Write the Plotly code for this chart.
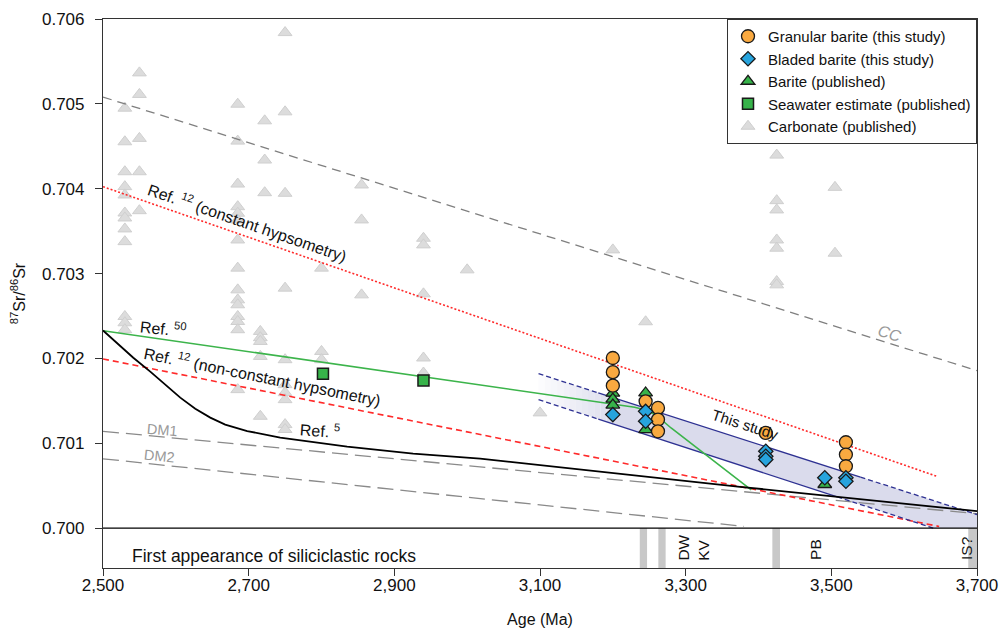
import numpy as np
import plotly.graph_objects as go

# ---------------- data ----------------
carb_age = ([2530] * 12 + [2550] * 5 + [2685] * 15 + [2716] * 5 + [2722] * 3 +
            [2750] * 10 + [2800] * 3 + [2855] * 3 + [2940] * 5 + [3000, 3100, 3200, 3245] +
            [3425] * 7 + [3505] * 2)
carb_sr = [0.704949, 0.704553, 0.704200, 0.704024, 0.703926, 0.703714, 0.703655, 0.703526,
           0.703376, 0.702494, 0.702420, 0.702338,
           0.705365, 0.705111, 0.704593, 0.704200, 0.703741,
           0.704996, 0.704561, 0.704055, 0.703788, 0.703711, 0.703632, 0.703396, 0.703064,
           0.702808, 0.702690, 0.702632, 0.702494, 0.702435, 0.702338, 0.701632,
           0.702318, 0.702244, 0.702200, 0.702024, 0.701318,
           0.704800, 0.704338, 0.703953,
           0.705840, 0.704906, 0.703946, 0.702828, 0.701985, 0.701691, 0.701596, 0.701514,
           0.701220, 0.701162,
           0.703064, 0.702082, 0.701985,
           0.704044, 0.703632, 0.702749,
           0.703416, 0.703338, 0.702761, 0.702005, 0.701828,
           0.703044, 0.701358, 0.703279, 0.702432,
           0.704396, 0.703859, 0.703750, 0.703396, 0.703299, 0.702906, 0.702867,
           0.704016, 0.703240]

granular_age = [3200, 3200, 3200, 3245, 3262, 3262, 3262, 3410, 3520, 3520, 3520]
granular_sr = [0.702005, 0.701838, 0.701679, 0.701494, 0.701416, 0.701279, 0.701141,
               0.701122, 0.701012, 0.700867, 0.700729]

bladed_age = [3200, 3245, 3245, 3410, 3410, 3410, 3491, 3520, 3520]
bladed_sr = [0.701338, 0.701376, 0.701259, 0.700906, 0.700847, 0.700808, 0.700593,
             0.700593, 0.700553]

barite_age = [3200, 3200, 3200, 3245, 3245, 3491]
barite_sr = [0.701590, 0.701520, 0.701450, 0.701593, 0.701161, 0.700514]

seawater_age = [2802, 2940]
seawater_sr = [0.701820, 0.701741]

# model curves
cc_age = [2500, 3700]
cc_sr = [0.705080, 0.701855]
const_age = [2500, 3645]
const_sr = [0.704024, 0.700610]
nonconst_age = [2500, 3648]
nonconst_sr = [0.701994, 0.700020]
ref50_age = [2500, 3200, 3230, 3250, 3265, 3280, 3390]
ref50_sr = [0.702327, 0.701470, 0.701425, 0.701380, 0.701290, 0.701180, 0.700450]
ref5_age = [2500, 2541.6, 2564.9, 2585.5, 2606.1, 2626.7, 2647.3, 2667.8, 2698, 2743.3,
            2835.2, 2925.8, 3017.8, 3374.6, 3700]
ref5_sr = [0.702329, 0.702008, 0.701844, 0.701691, 0.701538, 0.701408, 0.701302, 0.701220,
           0.701144, 0.701067, 0.700961, 0.700879, 0.700820, 0.700487, 0.700200]
dm1_age = [2500, 3700]
dm1_sr = [0.701141, 0.700170]
dm2_age = [2500, 3380]
dm2_sr = [0.700817, 0.700020]

# "This study" band
band_up_age = [3098, 3700]
band_up_sr = [0.701820, 0.700160]
band_lo_age = [3098, 3640]
band_lo_sr = [0.701514, 0.700000]
band_solid_up = [3180, 3540]
band_solid_lo = [3180, 3508]
band_fade_end = 3200

# first-appearance bars (age ranges)
bar_start = [3237, 3262.5, 3419, 3688]
bar_end = [3247, 3272.5, 3429.5, 3700]
site_labels = ["DW", "KV", "PB", "IS?"]
site_age = [3296.6, 3325, 3479, 3685.7]

x_ticks = [2500, 2700, 2900, 3100, 3300, 3500, 3700]
y_ticks = [0.700, 0.701, 0.702, 0.703, 0.704, 0.705, 0.706]
x_range = [2500, 3700]
y_range = [0.69953, 0.706]

FONT = "Liberation Sans, Arial, Helvetica, sans-serif"
NAVY = "#2e3192"

fig = go.Figure()


def up(a):
    return float(np.interp(a, band_up_age, band_up_sr))


def lo(a):
    return float(np.interp(a, band_lo_age, band_lo_sr, right=band_lo_sr[-1]))


# band fill: faded left part + solid body
n = 12
edges = np.linspace(band_up_age[0], band_fade_end, n + 1)
for i in range(n):
    a0, a1 = edges[i], edges[i + 1]
    alpha = (i + 1) / (n + 1)
    fig.add_trace(go.Scatter(
        x=[a0, a1, a1, a0, a0], y=[up(a0), up(a1), lo(a1), lo(a0), up(a0)],
        mode="lines", fill="toself", line=dict(width=0),
        fillcolor=f"rgba(218,219,236,{alpha:.3f})", hoverinfo="skip", showlegend=False))
fig.add_trace(go.Scatter(
    x=[band_fade_end, band_up_age[1], band_up_age[1], band_lo_age[1], band_fade_end, band_fade_end],
    y=[up(band_fade_end), band_up_sr[1], band_lo_sr[1], band_lo_sr[1], lo(band_fade_end), up(band_fade_end)],
    mode="lines", fill="toself", line=dict(width=0), fillcolor="rgb(218,219,236)",
    hoverinfo="skip", showlegend=False))

# carbonate (behind lines)
fig.add_trace(go.Scatter(
    x=carb_age, y=carb_sr, mode="markers", name="Carbonate (published)", legendrank=5,
    marker=dict(symbol="triangle-up", size=12, color="#dcdcdc",
                line=dict(color="#cfcfcf", width=1))))


def line(x, y, color, width, dash="solid"):
    fig.add_trace(go.Scatter(x=x, y=y, mode="lines", hoverinfo="skip", showlegend=False,
                             line=dict(color=color, width=width, dash=dash)))


line(cc_age, cc_sr, "#7f7f7f", 1.3, "9px,6px")
line(dm1_age, dm1_sr, "#8a8a8a", 1.3, "16px,7px")
line(dm2_age, dm2_sr, "#8a8a8a", 1.3, "16px,7px")
line(const_age, const_sr, "#ff2a2a", 1.6, "2px,2px")
line(nonconst_age, nonconst_sr, "#ff2a2a", 1.6, "6px,4px")

# band edges
for ages, f, solid in [(band_up_age, up, band_solid_up), (band_lo_age, lo, band_solid_lo)]:
    line([ages[0], solid[0]], [f(ages[0]), f(solid[0])], NAVY, 1.3, "5px,3px")
    line(solid, [f(solid[0]), f(solid[1])], NAVY, 1.3)
    line([solid[1], ages[1]], [f(solid[1]), f(ages[1])], NAVY, 1.3, "5px,3px")

line(ref50_age, ref50_sr, "#3cb44b", 1.6)
line(ref5_age, ref5_sr, "#000000", 1.8)

# published barite, granular, bladed, seawater
fig.add_trace(go.Scatter(
    x=barite_age, y=barite_sr, mode="markers", name="Barite (published)", legendrank=3,
    marker=dict(symbol="triangle-up", size=12, color="#37b34a", line=dict(color="#1a1a1a", width=1.3))))
fig.add_trace(go.Scatter(
    x=granular_age, y=granular_sr, mode="markers", name="Granular barite (this study)", legendrank=1,
    marker=dict(symbol="circle", size=13, color="#f9a940", line=dict(color="#1a1a1a", width=1.3))))
fig.add_trace(go.Scatter(
    x=bladed_age, y=bladed_sr, mode="markers", name="Bladed barite (this study)", legendrank=2,
    marker=dict(symbol="diamond", size=11, color="#27a4dd", line=dict(color="#1a1a1a", width=1.3))))
fig.add_trace(go.Scatter(
    x=seawater_age, y=seawater_sr, mode="markers", name="Seawater estimate (published)", legendrank=4,
    marker=dict(symbol="square", size=11, color="#37b34a", line=dict(color="#1a1a1a", width=1.5))))

# shapes: grey bars + 0.700 line
shapes = []
for s, e in zip(bar_start, bar_end):
    shapes.append(dict(type="rect", xref="x", yref="y", x0=s, x1=e, y0=y_range[0], y1=0.700,
                       fillcolor="#c8c8c8", line=dict(width=0), layer="below"))
shapes.append(dict(type="line", xref="paper", yref="y", x0=0, x1=1, y0=0.700, y1=0.700,
                   line=dict(color="#000000", width=1.3)))

ann = []


def text(x, y, t, angle=0, size=16, color="#111111", xanchor="center", yanchor="middle", italic=False):
    ann.append(dict(x=x, y=y, xref="x", yref="y", text=t, showarrow=False, textangle=angle,
                    xanchor=xanchor, yanchor=yanchor,
                    font=dict(family=FONT, size=size, color=color,
                              style="italic" if italic else "normal")))


text(2698, 0.703608, "Ref. <sup>12</sup> (constant hypsometry)", 19)
text(2719, 0.701793, "Ref. <sup>12</sup> (non-constant hypsometry)", 11.4)
text(2583, 0.70236, "Ref. <sup>50</sup>", 6)
text(2798, 0.70116, "Ref. <sup>5</sup>", 4)
text(2581.6, 0.70116, "DM1", 5, 14.5, "#999999")
text(2577, 0.700855, "DM2", 6, 14.5, "#999999")
text(3381.6, 0.701227, "This study", 17.8, 15)
text(3580.5, 0.702298, "CC", 17, 16, "#999999", italic=True)
text(2537, 0.699667, "First appearance of siliciclastic rocks", 0, 17.5, xanchor="left")
for lab, a in zip(site_labels, site_age):
    text(a, 0.699596, lab, -90, 15.5, yanchor="bottom")

fig.update_layout(
    width=1001, height=630,
    margin=dict(l=103, r=24, t=19, b=62, autoexpand=False),
    paper_bgcolor="white", plot_bgcolor="white",
    font=dict(family=FONT, size=16, color="#111111"),
    shapes=shapes, annotations=ann,
    legend=dict(x=1, y=1, xanchor="right", yanchor="top", bgcolor="white",
                bordercolor="#333333", borderwidth=1, font=dict(size=15, family=FONT),
                tracegroupgap=0, itemwidth=30),
    xaxis=dict(range=x_range, tickvals=x_ticks, tickformat=",", ticks="outside", ticklen=7,
               tickcolor="#333333", showline=True, linecolor="#333333", linewidth=1.2,
               mirror=True, showgrid=False, zeroline=False, automargin=False,
               title=dict(text="Age (Ma)", font=dict(size=16), standoff=20),
               tickfont=dict(size=17), ticklabelstandoff=-6),
    yaxis=dict(range=y_range, tickvals=y_ticks, tickformat=".3f", ticks="outside", ticklen=7,
               tickcolor="#333333", showline=True, linecolor="#333333", linewidth=1.2,
               mirror=True, showgrid=False, zeroline=False, automargin=False,
               title=dict(text="<sup>87</sup>Sr/<sup>86</sup>Sr", font=dict(size=16), standoff=12),
               tickfont=dict(size=17), ticklabelstandoff=7),
)

fig.write_html("out.html")
